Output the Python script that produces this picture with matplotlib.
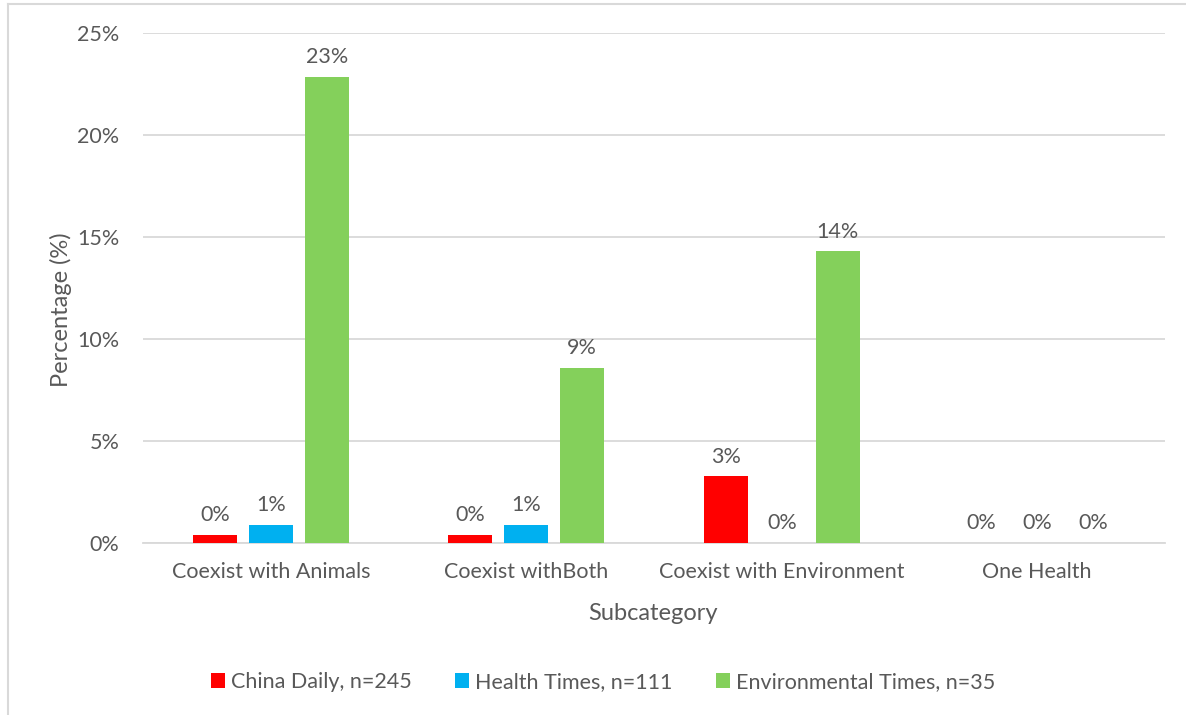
import matplotlib
matplotlib.use("Agg")
import matplotlib.pyplot as plt
import numpy as np

categories = ["Coexist with Animals", "Coexist withBoth", "Coexist with Environment", "One Health"]
series_names = ["China Daily, n=245", "Health Times, n=111", "Environmental Times, n=35"]
china_daily = [0.41, 0.41, 3.27, 0.0]
health_times = [0.90, 0.90, 0.0, 0.0]
environmental_times = [22.86, 8.57, 14.29, 0.0]
colors = ["#FF0000", "#00B0F0", "#84D05B"]
yticks = [0, 5, 10, 15, 20, 25]

plt.rcParams['font.family'] = ['Lato', 'DejaVu Sans']
text_color = "#595959"
fs = 15.5

fig = plt.figure(figsize=(11.86, 7.15), dpi=100)
ax = fig.add_axes([143/1186, 1 - 543/715, (1165-143)/1186, (543-33)/715])

x = np.arange(len(categories))
width = 0.172
offset = 0.219
all_series = [china_daily, health_times, environmental_times]
for i, (vals, name, c) in enumerate(zip(all_series, series_names, colors)):
    pos = x + (i - 1) * offset
    bars = ax.bar(pos, vals, width, color=c, label=name, zorder=3)
    for b, v in zip(bars, vals):
        ax.annotate(f"{v:.0f}%", (b.get_x() + b.get_width()/2, v),
                    xytext=(0, 7), textcoords="offset points",
                    ha="center", va="bottom", fontsize=fs, color=text_color)

ax.set_xlim(-0.5, len(categories) - 0.5)
ax.set_ylim(0, 25)
ax.set_yticks(yticks)
ax.set_yticklabels([f"{t}%" for t in yticks])
ax.set_xticks(x)
ax.set_xticklabels(categories)
ax.tick_params(axis='both', length=0, labelsize=fs, labelcolor=text_color)
ax.tick_params(axis='x', pad=14)
ax.tick_params(axis='y', pad=17)
ax.yaxis.grid(True, color="#D9D9D9", linewidth=1.3, zorder=0)
ax.set_axisbelow(True)
for s in ["top", "right", "left"]:
    ax.spines[s].set_visible(False)
ax.spines["bottom"].set_color("#D9D9D9")
ax.spines["bottom"].set_linewidth(1.3)

ax.set_ylabel("Percentage (%)", fontsize=17, color=text_color)
ax.yaxis.set_label_coords(61/1186, 1 - 310/715, transform=fig.transFigure)
ax.set_xlabel("Subcategory", fontsize=17, color=text_color)
ax.xaxis.set_label_coords(653/1186, 1 - 613/715, transform=fig.transFigure)
ax.xaxis.label.set_va("center")
ax.yaxis.label.set_va("center")

leg = fig.legend(loc="center", bbox_to_anchor=(603/1186, 1 - 682/715), ncol=3,
                 frameon=False, fontsize=fs, handlelength=0.65, handleheight=0.65,
                 handletextpad=0.3, columnspacing=2.0)
for t in leg.get_texts():
    t.set_color(text_color)

# chart border (left and top only visible)
fig.add_artist(plt.Line2D([8/1186, 8/1186], [0, 1 - 4/715], transform=fig.transFigure, color="#D9D9D9", linewidth=1.5))
fig.add_artist(plt.Line2D([8/1186, 1], [1 - 4/715, 1 - 4/715], transform=fig.transFigure, color="#D9D9D9", linewidth=1.5))

fig.savefig("out.png", dpi=100, facecolor="white")
